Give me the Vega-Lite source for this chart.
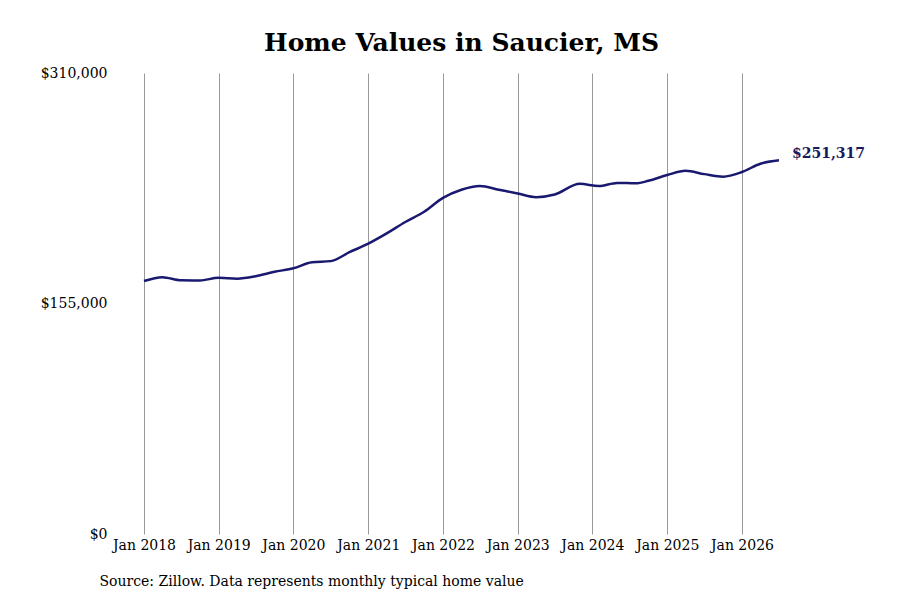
{
  "$schema": "https://vega.github.io/schema/vega-lite/v6.json",
  "autosize": "none",
  "width": 635,
  "height": 461,
  "padding": {"left": 144, "top": 73, "right": 121, "bottom": 66},
  "background": "white",
  "config": {
    "view": {"stroke": null},
    "font": "DejaVu Serif"
  },
  "title": {
    "text": "Home Values in Saucier, MS",
    "font": "DejaVu Serif",
    "fontSize": 25,
    "fontWeight": "bold",
    "color": "black",
    "anchor": "middle",
    "offset": 10
  },
  "data": {
    "values": [
      {"date": "2018-01-01", "value": 170100},
      {"date": "2018-04-01", "value": 172700},
      {"date": "2018-07-01", "value": 170600},
      {"date": "2018-10-01", "value": 170500},
      {"date": "2019-01-01", "value": 172300},
      {"date": "2019-04-01", "value": 171700},
      {"date": "2019-07-01", "value": 173300},
      {"date": "2019-10-01", "value": 176300},
      {"date": "2020-01-01", "value": 178700},
      {"date": "2020-04-01", "value": 182700},
      {"date": "2020-07-01", "value": 183500},
      {"date": "2020-10-01", "value": 189500},
      {"date": "2021-01-01", "value": 195300},
      {"date": "2021-04-01", "value": 202200},
      {"date": "2021-07-01", "value": 209800},
      {"date": "2021-10-01", "value": 216700},
      {"date": "2022-01-01", "value": 226000},
      {"date": "2022-04-01", "value": 231500},
      {"date": "2022-07-01", "value": 234000},
      {"date": "2022-10-01", "value": 231500},
      {"date": "2023-01-01", "value": 229000},
      {"date": "2023-04-01", "value": 226500},
      {"date": "2023-07-01", "value": 228300},
      {"date": "2023-11-01", "value": 235500},
      {"date": "2024-02-01", "value": 234000},
      {"date": "2024-05-01", "value": 236100},
      {"date": "2024-08-01", "value": 235800},
      {"date": "2024-10-01", "value": 237500},
      {"date": "2025-01-01", "value": 241400},
      {"date": "2025-04-01", "value": 244200},
      {"date": "2025-07-01", "value": 242000},
      {"date": "2025-10-01", "value": 240300},
      {"date": "2026-01-01", "value": 243400},
      {"date": "2026-04-01", "value": 249000},
      {"date": "2026-07-01", "value": 251317}
    ]
  },
  "encoding": {
    "x": {
      "field": "date",
      "type": "temporal",
      "scale": {"domain": ["2018-01-01", "2026-07-01"]},
      "axis": {
        "title": "Source: Zillow. Data represents monthly typical home value",
        "titleFont": "DejaVu Serif",
        "titleFontSize": 14,
        "titleFontWeight": "normal",
        "titleColor": "black",
        "titleAnchor": "start",
        "titleAlign": "left",
        "titleX": -45,
        "titleY": 40,
        "format": "%b %Y",
        "tickCount": {"interval": "year", "step": 1},
        "grid": true,
        "gridColor": "#999999",
        "gridWidth": 1,
        "domain": false,
        "ticks": false,
        "labelFont": "DejaVu Serif",
        "labelFontSize": 14,
        "labelColor": "black",
        "labelPadding": 4,
        "labelFlush": false
      }
    },
    "y": {
      "field": "value",
      "type": "quantitative",
      "scale": {"domain": [0, 310000]},
      "axis": {
        "title": null,
        "values": [0, 155000, 310000],
        "format": "$,.0f",
        "grid": false,
        "domain": false,
        "ticks": false,
        "labelFont": "DejaVu Serif",
        "labelFontSize": 14,
        "labelColor": "black",
        "labelPadding": 37
      }
    }
  },
  "layer": [
    {
      "mark": {"type": "line", "color": "#191970", "strokeWidth": 2.5, "interpolate": "monotone"}
    },
    {
      "transform": [{"filter": "datum.value == 251317"}],
      "mark": {"type": "text", "align": "left", "baseline": "middle", "dx": 13, "dy": -6, "fontSize": 14, "fontWeight": "bold", "color": "#191960", "font": "DejaVu Serif", "clip": false},
      "encoding": {
        "text": {"field": "value", "type": "quantitative", "format": "$,.0f"}
      }
    }
  ]
}
